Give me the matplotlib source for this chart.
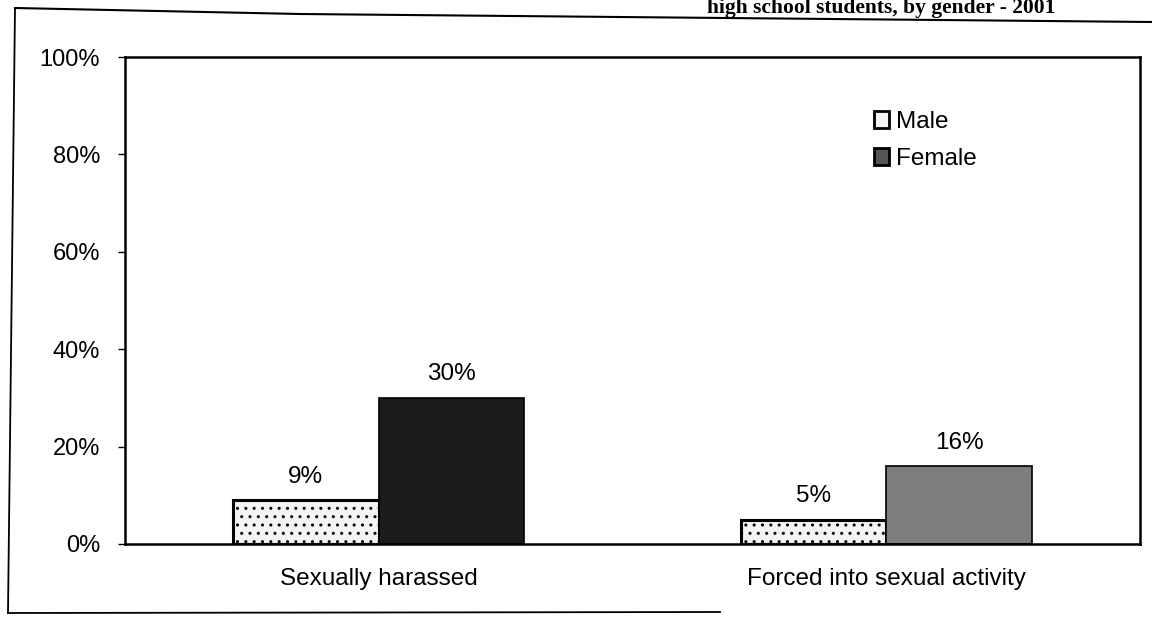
import numpy as np
import matplotlib
matplotlib.use("Agg")
import matplotlib.pyplot as plt
from matplotlib.lines import Line2D

categories = ["Sexually harassed", "Forced into sexual activity"]
series = ["Male", "Female"]
male = [9, 5]
female = [30, 16]
yticks = [0, 20, 40, 60, 80, 100]
title_frag = "high school students, by gender - 2001"

plt.rcParams["font.family"] = ["Liberation Sans", "DejaVu Sans"]

W, H = 1152, 624
fig = plt.figure(figsize=(W / 100, H / 100), dpi=100)
ax = fig.add_axes([125 / W, 1 - 544 / H, (1140 - 125) / W, (544 - 57) / H])

x = np.arange(len(categories))
bw = 0.287
b_m = ax.bar(x - bw / 2, male, bw, color="#f3f3f3", edgecolor="black", lw=2.2,
             hatch="..", label=series[0])
b_f = ax.bar(x + bw / 2, female, bw, color=["#1c1c1c", "#7d7d7d"], edgecolor="black",
             lw=1.2, label=series[1])

for bars, vals in ((b_m, male), (b_f, female)):
    for r, v in zip(bars, vals):
        ax.annotate(f"{v}%", (r.get_x() + r.get_width() / 2, v), xytext=(0, 9),
                    textcoords="offset points", ha="center", va="bottom", fontsize=17.5)

ax.set_xlim(-0.5, 1.5)
ax.set_ylim(0, 100)
ax.set_yticks(yticks)
ax.set_yticklabels([f"{t}%" for t in yticks])
ax.set_xticks(x)
ax.set_xticklabels(categories)
ax.tick_params(axis="y", length=5, width=1, pad=13, labelsize=17)
ax.tick_params(axis="x", length=0, pad=17, labelsize=17.5)
for s in ax.spines.values():
    s.set_linewidth(1.8)
    s.set_color("black")

h_m = plt.Rectangle((0, 0), 1, 1, facecolor="#f3f3f3", edgecolor="black", lw=2)
h_f = plt.Rectangle((0, 0), 1, 1, facecolor="#555555", edgecolor="black", lw=2)
ax.legend([h_m, h_f], series, loc="upper left", frameon=False,
          bbox_to_anchor=(874 / W, 1 - 111 / H), bbox_transform=fig.transFigure,
          fontsize=17.5, handlelength=0.6, handleheight=0.7, handletextpad=0.3,
          labelspacing=0.62, borderpad=0, borderaxespad=0)

# scanned page frame and heading at the top edge
fig.add_artist(Line2D([15 / W, 300 / W, 1.0], [1 - 8 / H, 1 - 14 / H, 1 - 22 / H],
                      color="black", lw=1.5))
fig.add_artist(Line2D([15 / W, 8 / W], [1 - 8 / H, 1 - 613 / H], color="black", lw=1.3))
fig.add_artist(Line2D([8 / W, 720 / W], [1 - 613 / H, 1 - 612 / H], color="black", lw=1.3))
fig.text(1055 / W, 1 - 13 / H, title_frag, ha="right", va="baseline",
         fontsize=15.5, fontweight="bold", family=["Liberation Serif", "DejaVu Serif"])

fig.savefig("out.png", dpi=100)
